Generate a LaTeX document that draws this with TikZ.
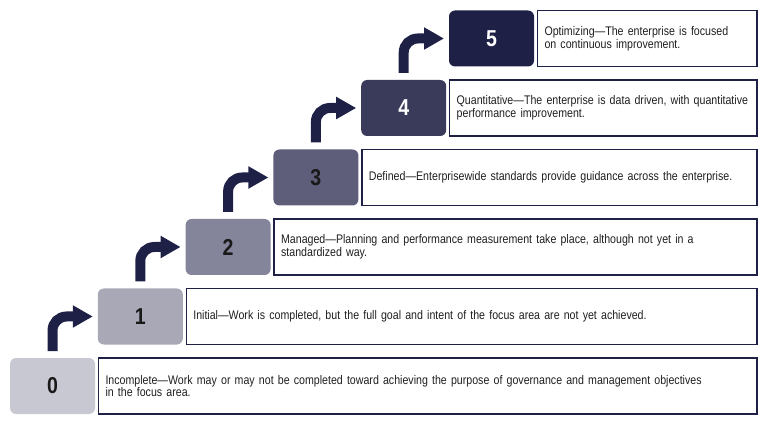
\documentclass[tikz,border=0pt]{standalone}
\usepackage{fontspec}
\setmainfont{Liberation Sans}[FakeStretch=0.85, WordSpace=0.85]
\usetikzlibrary{arrows.meta, positioning}
\definecolor{navy}{HTML}{1E2046}
\definecolor{shade0}{HTML}{C8C8D2}
\definecolor{shade1}{HTML}{A8A8B6}
\definecolor{shade2}{HTML}{84849A}
\definecolor{shade3}{HTML}{5E5E7A}
\definecolor{shade4}{HTML}{3A3A5A}
\definecolor{shade5}{HTML}{1E2046}
\tikzset{
    lvlbox/.style={
        rectangle,
        rounded corners=6pt,
        minimum width=85pt,
        minimum height=56pt,
        inner sep=0pt,
        outer sep=0pt,
        text=black!90,
        font=\fontsize{23}{23}\selectfont\bfseries
    },
    desc/.style={
        rectangle,
        draw=navy,
        line width=1.4pt,
        minimum height=56pt,
        inner xsep=7pt,
        outer sep=0pt,
        align=left,
        text=black!88,
        font=\fontsize{12.5}{12.8}\selectfont
    },
    climb/.style={
        draw=navy,
        line width=10pt,
        rounded corners=14pt,
        -{Triangle[width=21pt,length=20pt]}
    }
}

\begin{document}
\begin{tikzpicture}[x=1pt, y=1pt, node distance=3.5pt]

\useasboundingbox (0,0) rectangle (765,423);

\node[lvlbox, fill=shade0] (l0) at (52.5,37) {0};
\node[lvlbox, fill=shade1] (l1) at (140.3,106.5) {1};
\node[lvlbox, fill=shade2] (l2) at (228.1,176) {2};
\node[lvlbox, fill=shade3] (l3) at (315.9,245.5) {3};
\node[lvlbox, fill=shade4, text=white] (l4) at (403.7,315) {4};
\node[lvlbox, fill=shade5, text=white] (l5) at (491.5,384.5) {5};

\node[desc, right=of l0, text width=644.5pt] (d0) {Incomplete—Work may or may not be completed toward achieving the purpose of governance and management objectives\\in the focus area.};
\node[desc, right=of l1, text width=556.7pt] (d1) {Initial—Work is completed, but the full goal and intent of the focus area are not yet achieved.};
\node[desc, right=of l2, text width=468.9pt] (d2) {Managed—Planning and performance measurement take place, although not yet in a\\standardized way.};
\node[desc, right=of l3, text width=381.1pt] (d3) {Defined—Enterprisewide standards provide guidance across the enterprise.};
\node[desc, right=of l4, text width=293.3pt] (d4) {Quantitative—The enterprise is data driven, with quantitative\\performance improvement.};
\node[desc, right=of l5, text width=205.5pt] (d5) {Optimizing—The enterprise is focused\\on continuous improvement.};

\draw[climb] ([yshift=7pt]l0.north) |- ([xshift=-5pt]l1.west);
\draw[climb] ([yshift=7pt]l1.north) |- ([xshift=-5pt]l2.west);
\draw[climb] ([yshift=7pt]l2.north) |- ([xshift=-5pt]l3.west);
\draw[climb] ([yshift=7pt]l3.north) |- ([xshift=-5pt]l4.west);
\draw[climb] ([yshift=7pt]l4.north) |- ([xshift=-5pt]l5.west);

\end{tikzpicture}
\end{document}
